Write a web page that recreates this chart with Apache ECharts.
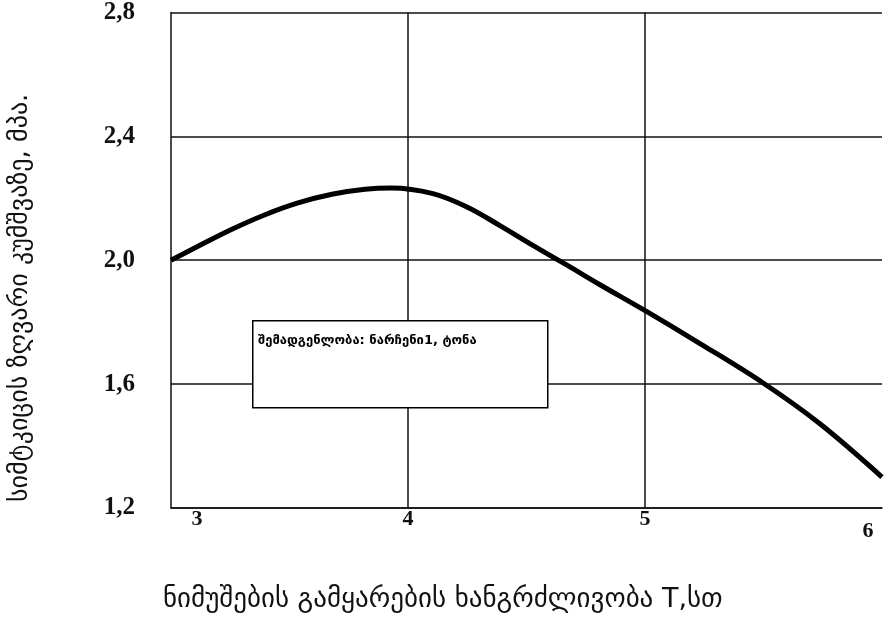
<!DOCTYPE html>
<html>
<head>
<meta charset="utf-8">
<script src="https://cdn.jsdelivr.net/npm/echarts@6/dist/echarts.min.js"></script>
<style>
  html, body { margin: 0; padding: 0; background: #fff; }
  #chart { width: 886px; height: 618px; }
</style>
</head>
<body>
<div id="chart"></div>
<script>
// Hardening duration T (h) and compressive strength (MPa)
const timeH = [3.0, 3.114, 3.257, 3.397, 3.536, 3.679, 3.819, 3.93, 4.105, 4.249, 4.388, 4.527, 4.671, 4.81, 5.008, 5.232, 5.494, 5.738, 6.0];
const strength = [2.0, 2.045, 2.1, 2.147, 2.185, 2.213, 2.229, 2.233, 2.215, 2.172, 2.112, 2.048, 1.984, 1.921, 1.834, 1.731, 1.606, 1.472, 1.3];

const xTickLabels = ['3', '4', '5', '6'];
const yTickLabels = ['1,2', '1,6', '2,0', '2,4', '2,8'];

const xTitle = 'ნიმუშების გამყარების ხანგრძლივობა T,სთ';
const yTitle = 'სიმტკიცის ზღვარი კუმშვაზე, მპა.';
const boxText = 'შემადგენლობა: ნარჩენი1, ტონა';

const chart = echarts.init(document.getElementById('chart'), null, { renderer: 'canvas' });

const gridColor = '#111';
const serif = '"Liberation Serif", "DejaVu Serif", serif';
const georgian = '"DejaVu Sans", "Noto Sans", sans-serif';

chart.setOption({
  backgroundColor: '#fff',
  animation: false,
  grid: { left: 171, right: 4, top: 10, bottom: 110, containLabel: false },
  xAxis: {
    type: 'value',
    min: 3, max: 6, interval: 1,
    axisLine: { show: true, onZero: false, lineStyle: { color: gridColor, width: 1.5 } },
    axisTick: { show: false },
    splitLine: { show: true, showMinLine: false, showMaxLine: false, lineStyle: { color: gridColor, width: 1.5 } },
    axisLabel: {
      margin: 0,
      color: '#111',
      fontFamily: serif,
      fontSize: 22,
      fontWeight: 'bold',
      formatter: function (v) {
        const i = Math.round(v) - 3;
        const t = xTickLabels[i];
        if (t === undefined) return '';
        if (i === 0) return '{first|' + t + '}';
        if (i === xTickLabels.length - 1) return '{last|' + t + '}';
        return t;
      },
      rich: {
        first: { fontFamily: serif, fontSize: 22, fontWeight: 'bold', color: '#111', padding: [0, 0, 0, 52] },
        last: { fontFamily: serif, fontSize: 22, fontWeight: 'bold', color: '#111', padding: [12, 28, 0, 0] }
      }
    }
  },
  yAxis: {
    type: 'value',
    min: 1.2, max: 2.8, interval: 0.4,
    axisLine: { show: true, lineStyle: { color: gridColor, width: 1.5 } },
    axisTick: { show: false },
    splitLine: { show: true, lineStyle: { color: gridColor, width: 1.5 } },
    axisLabel: {
      margin: 36,
      color: '#111',
      fontFamily: serif,
      fontSize: 25,
      fontWeight: 'bold',
      formatter: function (v) {
        const i = Math.round((v - 1.2) / 0.4);
        return yTickLabels[i] !== undefined ? yTickLabels[i] : '';
      }
    }
  },
  series: [{
    type: 'line',
    name: boxText,
    data: timeH.map((t, i) => [t, strength[i]]),
    smooth: 0.35,
    showSymbol: false,
    lineStyle: { color: '#000', width: 5 },
    z: 5
  }],
  graphic: [
    {
      type: 'rect', left: 252, top: 320, z: 100,
      shape: { x: 0, y: 0, width: 295, height: 87 },
      style: { fill: '#fff', stroke: '#000', lineWidth: 1.5 }
    },
    {
      type: 'text', left: 258, top: 334, z: 101,
      style: { text: boxText, font: 'bold 13px ' + georgian, fill: '#000' }
    },
    {
      type: 'text', left: 163, top: 586, z: 100,
      style: { text: xTitle, font: '27px ' + georgian, fill: '#111' }
    },
    {
      type: 'text', z: 100,
      x: 7, y: 502, rotation: Math.PI / 2,
      style: { text: yTitle, font: '26px ' + georgian, fill: '#111', textVerticalAlign: 'top' }
    }
  ]
});
</script>
</body>
</html>
